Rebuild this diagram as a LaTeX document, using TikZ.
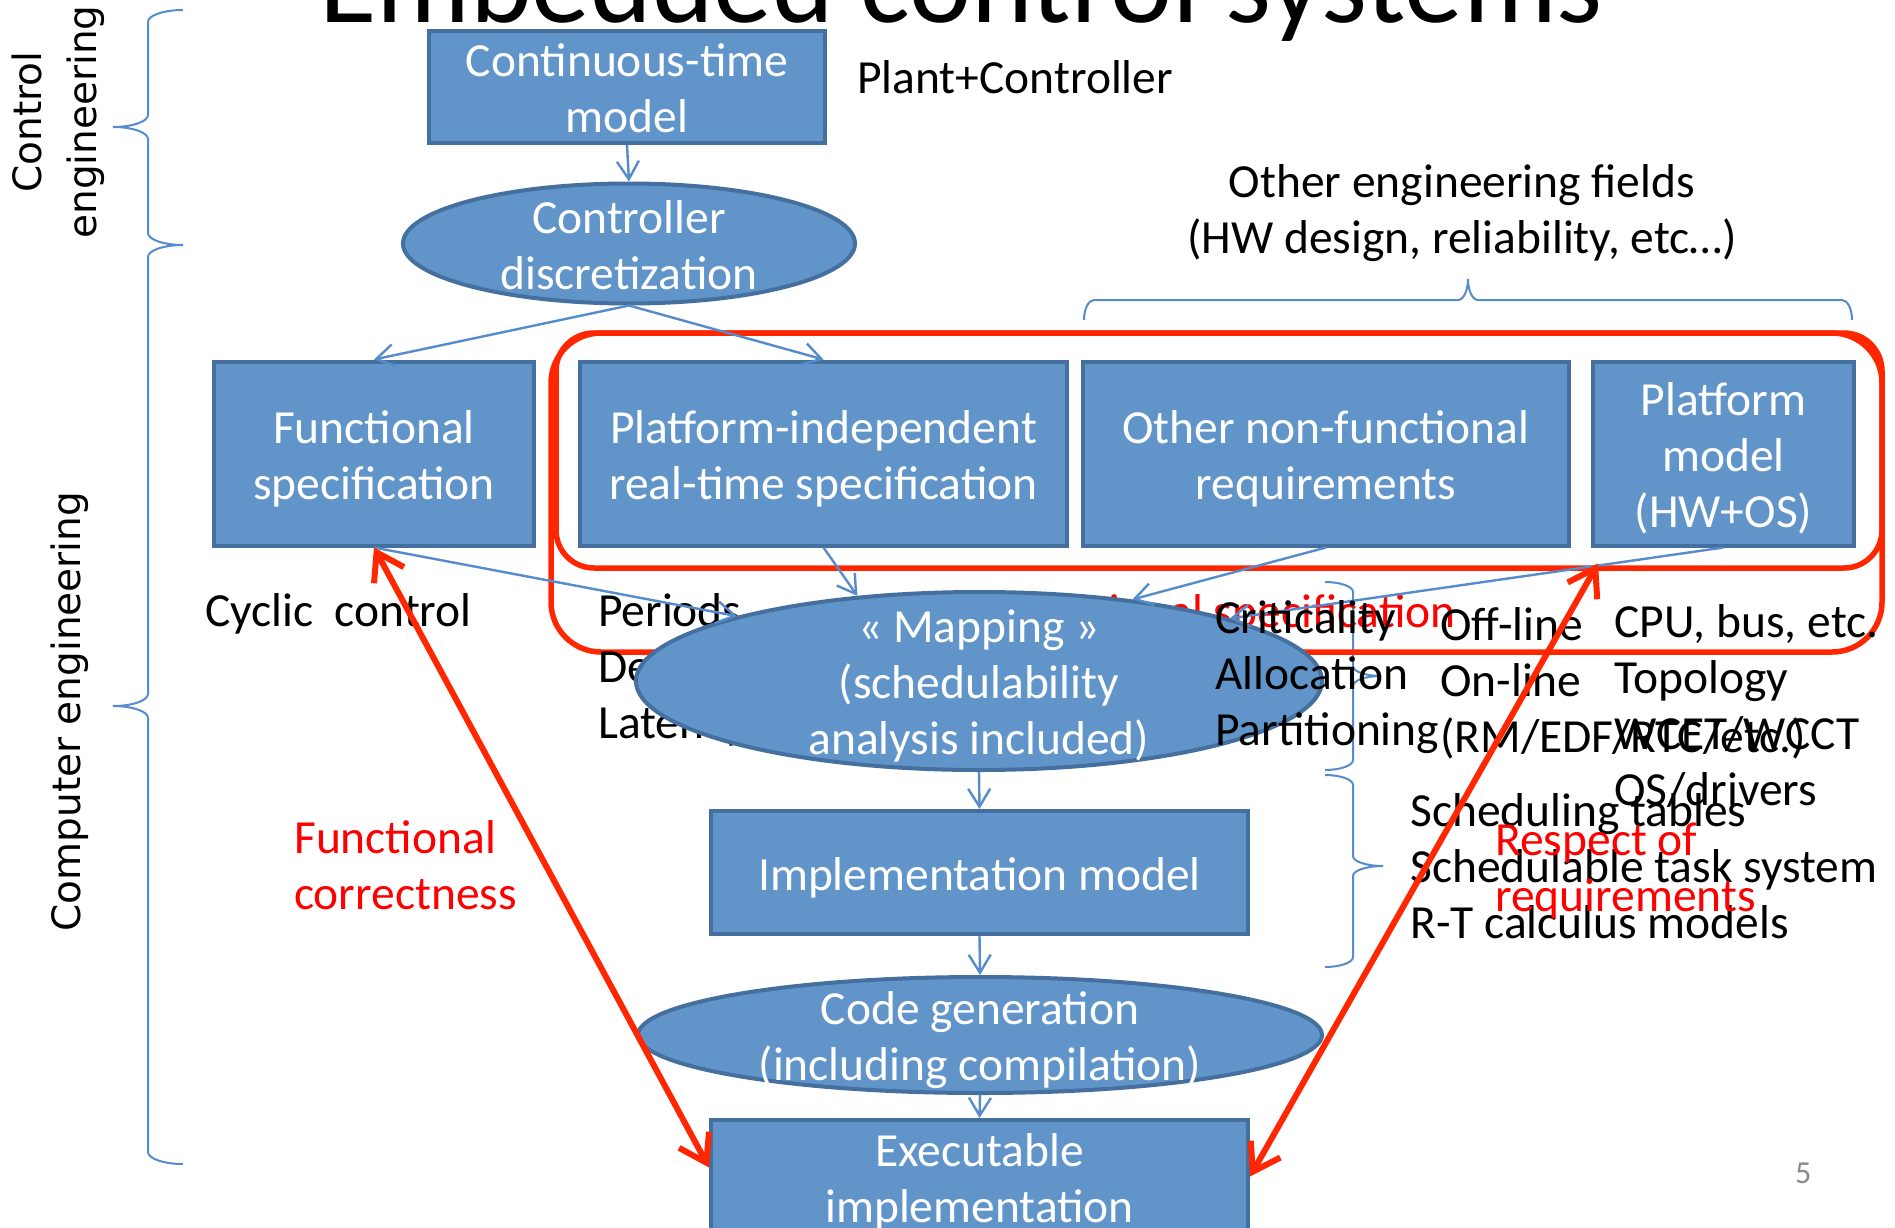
\documentclass[tikz,border=0pt]{standalone}
\usepackage{fontspec}
\setmainfont{Carlito}
\newfontfamily\sidefont{DejaVu Sans}
\usetikzlibrary{arrows.meta,shapes.geometric,calc}

\definecolor{boxfill}{RGB}{97,149,202}
\definecolor{boxedge}{RGB}{68,111,158}
\definecolor{linkblue}{RGB}{86,140,204}
\definecolor{framered}{RGB}{255,38,0}
\definecolor{pagegray}{RGB}{137,137,137}

% strut giving every text line the same height and depth
\newcommand{\ps}{\rule[-10.5pt]{0pt}{56pt}}
\newcommand{\bodyfont}{\fontsize{47.5pt}{56pt}\selectfont}

\begin{document}
\begin{tikzpicture}[x=1pt, y=-1pt,
  ctrlbox/.style={draw=boxedge, fill=boxfill, line width=4pt, text=white,
    font=\bodyfont, align=center, inner sep=0pt},
  oval/.style={ellipse, draw=boxedge, fill=boxfill, line width=4pt, inner sep=0pt},
  ovaltext/.style={text=white, font=\bodyfont, align=center, inner sep=0pt},
  txt/.style={font=\bodyfont, inner sep=0pt, align=left, anchor=north west},
  flow/.style={draw=linkblue, line width=2.4pt, line join=round,
    -{Straight Barb[length=18pt,width=22pt]}},
  redlink/.style={draw=framered, line width=6pt, line cap=round, line join=round,
    {Straight Barb[length=26pt,width=34pt]}-{Straight Barb[length=26pt,width=34pt]}},
  redframe/.style={draw=framered, line width=5.5pt},
  bracket/.style={draw=linkblue, line width=2pt},
  sidelabel/.style={font=\sidefont\fontsize{39pt}{55pt}\selectfont, rotate=90,
    inner sep=0pt, align=center}
]
\useasboundingbox (0,0) rectangle (1895,1228);
\clip (0,0) rectangle (1895,1228);
\fill[white] (0,0) rectangle (1895,1228);

% title (runs off the top edge)
\node[font=\fontsize{117.5pt}{130pt}\selectfont, anchor=base, inner sep=0pt] (title)
  at (961,23) {Embedded control systems};

% side labels
\node[sidelabel] (ctl) at (58,122) {Control\\engineering};
\node[sidelabel, anchor=base] (cmp) at (80,711.5) {Computer engineering};

% braces
\draw[bracket] (183,10) .. controls (163.7,10) and (148,15.4) .. (148,22)
  -- (148,115) .. controls (148,121.6) and (132.3,127) .. (113,127)
  .. controls (132.3,127) and (148,132.4) .. (148,139)
  -- (148,233) .. controls (148,239.6) and (163.7,245) .. (183,245);
\draw[bracket] (183,245) .. controls (163.7,245) and (148,250.4) .. (148,257)
  -- (148,694) .. controls (148,700.6) and (132.3,706) .. (113,706)
  .. controls (132.3,706) and (148,711.4) .. (148,718)
  -- (148,1152) .. controls (148,1158.6) and (163.7,1164) .. (183,1164);
\draw[bracket] (1325,582) .. controls (1340.5,582) and (1353,586.5) .. (1353,592)
  -- (1353,666) .. controls (1353,671.5) and (1365.5,676) .. (1381,676)
  .. controls (1365.5,676) and (1353,680.5) .. (1353,686)
  -- (1353,760) .. controls (1353,765.5) and (1340.5,770) .. (1325,770);
\draw[bracket] (1325,775) .. controls (1340.5,775) and (1353,779.5) .. (1353,785)
  -- (1353,856) .. controls (1353,861.5) and (1366.4,866) .. (1383,866)
  .. controls (1366.4,866) and (1353,870.5) .. (1353,876)
  -- (1353,957) .. controls (1353,962.5) and (1340.5,967) .. (1325,967);
\draw[bracket] (1084,320) .. controls (1084,309) and (1088.5,300) .. (1094,300)
  -- (1458,300) .. controls (1463.5,300) and (1468,290.6) .. (1468,279)
  .. controls (1468,290.6) and (1472.5,300) .. (1478,300)
  -- (1842,300) .. controls (1847.5,300) and (1852,309) .. (1852,320);

% red frames around the non-functional part
\draw[redframe, rounded corners=50pt] (551,333) rectangle (1882,652);
\draw[redframe, rounded corners=38pt] (556,333) rectangle (1882,568);

% upper blocks
\node[ctrlbox, minimum width=396pt, minimum height=109pt] (cont) at (627,87)
  {Continuous-time\ps\\model\ps};
\node[oval, minimum width=452pt, minimum height=120pt,
  label={[ovaltext]center:{Controller\ps\\discretization\ps}}] (disc) at (629,243.5) {};
\node[ctrlbox, minimum width=320pt, minimum height=184pt] (func) at (374,453.5)
  {Functional\ps\\specification\ps};
\node[ctrlbox, minimum width=487pt, minimum height=184pt] (pind) at (823.5,453.5)
  {Platform-independent\ps\\real-time specification\ps};
\node[ctrlbox, minimum width=486pt, minimum height=184pt] (oth) at (1326,453.5)
  {Other non-functional\ps\\requirements\ps};
\node[ctrlbox, minimum width=261pt, minimum height=184pt] (plat) at (1723.5,453.5)
  {Platform\ps\\model\ps\\(HW+OS)\ps};

\draw[flow] (cont.south) -- (disc.north);
\draw[flow] (disc.south) -- (func.north);
\draw[flow] (disc.south) -- (pind.north);

% free texts
\node[txt] (plant) at (857,47.5) {Plant+Controller\ps};
\node[txt, anchor=north, align=center] (otherf) at (1462,151.5)
  {Other engineering fields\ps\\(HW design, reliability, etc…)\ps};
\node[txt] (cyclic) at (205,580.5) {Cyclic\ \ control\ps};
\node[txt] (timing) at (598,580.5) {Periods\ps\\Deadlines\ps\\Latency\ps};
\node[txt, anchor=base east, text=red] (nfs) at (1456,627) {Non-functional specification};

% mapping step
\node[oval, minimum width=686pt, minimum height=178pt,
  label={[ovaltext]center:{«~Mapping~»\ps\\(schedulability\ps\\analysis included)\ps}}]
  (map) at (979,681) {};

\draw[flow] (func.south) -- (map.165);
\draw[flow] (pind.south) -- (map.145);
\draw[flow] (oth.south) -- (map.28);
\draw[flow] (plat.south) -- (map.14);

\node[txt] (crit) at (1215,587.5) {Criticality\ps\\Allocation\ps\\Partitioning\ps};
\node[txt] (sched) at (1440,594.5) {Off-line\ps\\On-line\ps\\(RM/EDF/RTC/etc.)\ps};
\node[txt] (hw) at (1614,591.5) {CPU, bus, etc.\ps\\Topology\ps\\WCET/WCCT\ps\\OS/drivers\ps};
\node[txt] (impltxt) at (1410,780.5)
  {Scheduling tables\ps\\Schedulable task system\ps\\R-T calculus models\ps};
\node[txt, text=red] (respect) at (1495,809.5) {Respect of\ps\\requirements\ps};

% lower blocks
\node[ctrlbox, minimum width=537pt, minimum height=123pt] (impl) at (979.5,872.5)
  {Implementation model\ps};
\node[oval, minimum width=684pt, minimum height=116pt,
  label={[ovaltext]center:{Code generation\ps\\(including compilation)\ps}}]
  (code) at (980,1035) {};
\node[ctrlbox, minimum width=537pt, minimum height=113pt] (exe) at (979.5,1176.5)
  {Executable\ps\\implementation\ps};

\draw[flow] (map.south) -- (impl.north);
\draw[flow] (impl.south) -- (code.north);
\draw[flow] (code.south) -- (exe.north);

\node[txt, text=red] (fcorr) at (294,807.5) {Functional\ps\\correctness\ps};

% verification arrows
\draw[redlink] ([yshift=9pt]exe.west) -- (func.south);
\draw[redlink] (exe.east) -- ([xshift=7pt,yshift=-16pt]plat.south west);

% slide number
\node[font=\fontsize{32pt}{38pt}\selectfont, text=pagegray, anchor=base west, inner sep=0pt]
  (pnum) at (1795,1183) {5};
\end{tikzpicture}
\end{document}
